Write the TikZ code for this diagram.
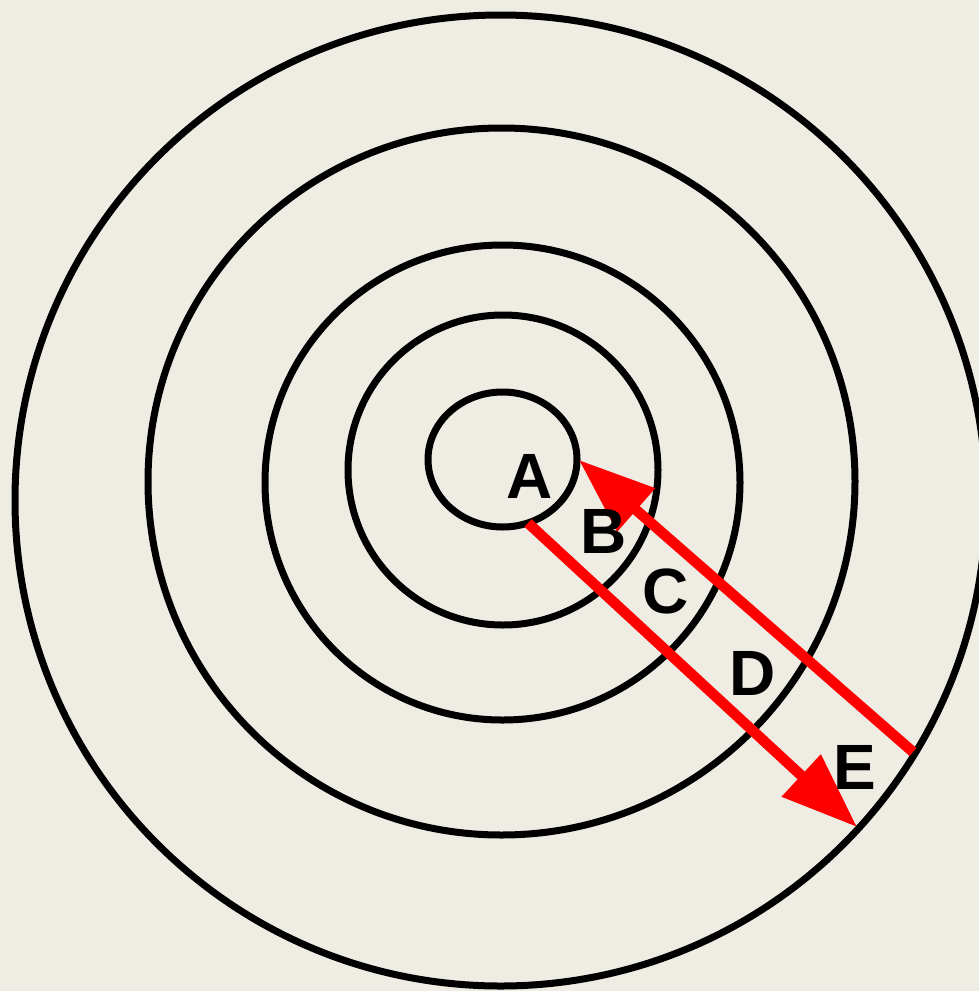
\documentclass[tikz,border=0pt]{standalone}
\usepackage{fontspec}
\setmainfont{Liberation Sans}
\usetikzlibrary{arrows.meta}
\definecolor{bg}{RGB}{238,236,227}
\definecolor{arrowred}{RGB}{255,0,0}
\begin{document}
\begin{tikzpicture}[x=1pt,y=-1pt,
  ring/.style={draw=black,line width=7pt},
  redarrow/.style={draw=arrowred,line width=10.5pt,-{Triangle[length=76pt,width=55pt]}},
  lbl/.style={font=\fontsize{64}{64}\selectfont\bfseries,text=black,inner sep=0pt,anchor=center}]
\useasboundingbox (0,0) rectangle (979,991);
\clip (0,0) rectangle (979,991);
\fill[bg] (0,0) rectangle (979,991);
% rings
\draw[ring] (500.5,500.5) circle (485.5);
\draw[ring] (501.5,481.5) circle (353.5);
\draw[ring] (502.5,482.5) circle (237.5);
\draw[ring] (503,470) circle (155);
\draw[ring] (502.5,459.5) ellipse [x radius=74.5,y radius=67.5];
% arrows
\coordinate (s1) at (528,523);
\coordinate (t1) at (857,827);
\coordinate (s2) at (913,752);
\coordinate (t2) at (579,460);
\draw[redarrow] (s1) -- (t1);
\draw[redarrow] (s2) -- (t2);
% labels
\node[lbl] (A) at (529.5,476) {A};
\node[lbl] (B) at (603.5,531) {B};
\node[lbl] (C) at (666,591) {C};
\node[lbl] (D) at (753,673) {D};
\node[lbl] (E) at (855,767) {E};
\end{tikzpicture}
\end{document}
